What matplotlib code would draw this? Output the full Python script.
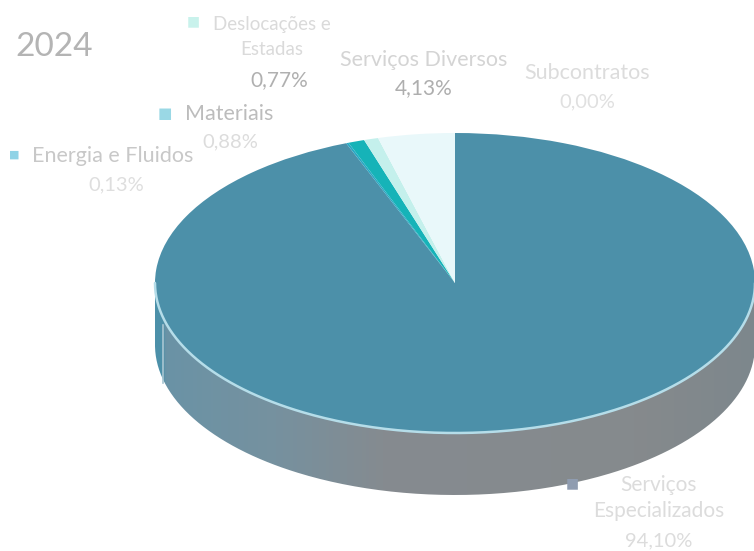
import numpy as np
import matplotlib.pyplot as plt
from matplotlib.colors import LinearSegmentedColormap
from matplotlib.patches import PathPatch
from matplotlib.path import Path

plt.rcParams['font.family'] = ['Lato', 'DejaVu Sans']

title = '2024'
categories = ['Serviços\nEspecializados', 'Energia e Fluidos', 'Materiais',
              'Deslocações e\nEstadas', 'Serviços Diversos', 'Subcontratos']
values = [94.10, 0.13, 0.88, 0.77, 4.13, 0.00]
value_labels = ['94,10%', '0,13%', '0,88%', '0,77%', '4,13%', '0,00%']
colors = ['#4c90a9', '#2aa7c4', '#16b3b8', '#c4f0ec', '#e9f8fa', '#d8f3f3']

W, H = 754, 551
cx, cy, rx, ry, depth = 455, 283, 300, 150, 62

fig = plt.figure(figsize=(W / 100, H / 100), dpi=100)
ax = fig.add_axes([0, 0, 1, 1])
ax.pie(values, colors=colors, startangle=90, counterclock=False, radius=1,
       wedgeprops={'linewidth': 0})
ax.set_aspect('auto')

# side wall of the disc, fading from teal on the left to grey
d = depth / ry
t = np.linspace(np.pi, 2 * np.pi, 300)
xs = np.cos(t)
ys = np.sin(t)
verts = np.vstack([np.column_stack([xs, ys]), np.column_stack([xs[::-1], ys[::-1] - d])])
wall = PathPatch(Path(np.vstack([verts, verts[0]])), transform=ax.transData,
                 facecolor='none', edgecolor='none')
ax.add_patch(wall)
cmap = LinearSegmentedColormap.from_list(
    'wall', [(0, '#4c90a9'), (0.013, '#4c90a9'), (0.016, '#6a93a6'), (0.2, '#76919f'),
             (0.38, '#858b90'), (0.8, '#868a8d'), (1, '#7d878c')])
grad = ax.imshow(np.linspace(0, 1, 256).reshape(1, -1), cmap=cmap, aspect='auto',
                 extent=[-1, 1, -1 - d, 0], zorder=0.5)
grad.set_clip_path(wall)

# pale seam near the left end of the wall
seam_x = (163 - cx) / rx
ax.plot([seam_x, seam_x], [(cy - 325) / ry, (cy - 383) / ry], color='#a9c6d2', lw=1.2, zorder=1)

# pale rim along the front of the top face
ax.plot(xs, ys, color='#b5dde9', lw=1.8, zorder=3, solid_capstyle='round')

ax.set_xlim(-cx / rx, (W - cx) / rx)
ax.set_ylim((cy - H) / ry, cy / ry)
ax.axis('off')


def label(x, y, s, color, size=15.5, spacing=1.35):
    fig.text(x / W, 1 - y / H, s, color=color, fontsize=size, ha='center', va='center',
             linespacing=spacing)


def swatch(x, y, color, size=9):
    fig.text(x / W, 1 - y / H, '■', color=color, fontsize=size, ha='center', va='center',
             family='DejaVu Sans')


# title and slice labels
fig.text(15 / W, 1 - 47 / H, title, color='#b4b4b4', fontsize=24, ha='left', va='center')

label(659, 498, categories[0], '#dcdcdc', 15)
label(659, 541, value_labels[0], '#dcdcdc', 14.5)
swatch(572, 483, '#8f9cb0', 10)

label(113, 156, categories[1], '#c8c8c8')
label(116, 185, value_labels[1], '#dedede', 14.5)
swatch(14, 155, '#8fd3e6', 8)

label(229, 114, categories[2], '#bcbcbc')
label(230, 142, value_labels[2], '#dcdcdc', 14.5)
swatch(165, 113, '#9ad8e5', 11)

label(272, 37, categories[3], '#dadada', 13.5, 1.6)
label(279, 80, value_labels[3], '#b0b0b0', 15)
swatch(193, 21, '#c9f2ec', 10)

label(424, 60, categories[4], '#d4d4d4', 15.5)
label(424, 88, value_labels[4], '#aeaeae', 15)

label(587, 73, categories[5], '#dcdcdc', 15.5)
label(587, 102, value_labels[5], '#e0e0e0', 14.5)

fig.savefig('out.png', dpi=100)
